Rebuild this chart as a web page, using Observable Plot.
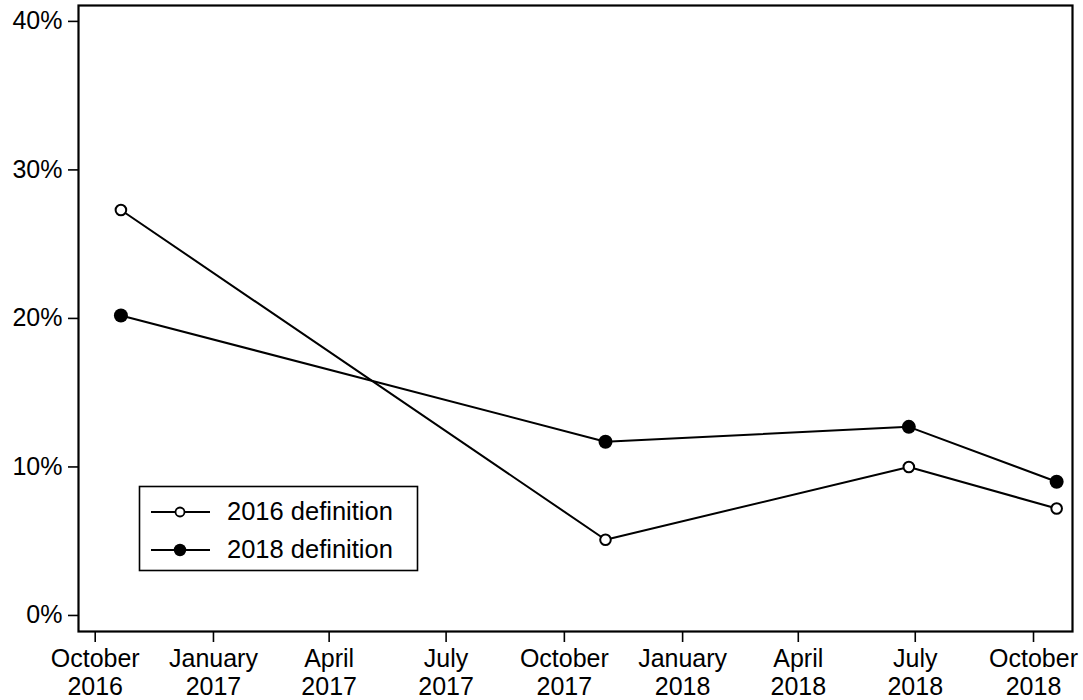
<!DOCTYPE html>
<html><head><meta charset="utf-8">
<script src="https://cdn.jsdelivr.net/npm/d3@7"></script>
<script src="https://cdn.jsdelivr.net/npm/@observablehq/plot@0.6"></script>
<style>
body{margin:0;background:#fff}
#wrap{position:relative;width:1083px;height:700px}
#legend{position:absolute;left:0;top:0;pointer-events:none}
</style>
</head><body><div id="wrap"></div>
<script>
const dates = ["2016-10-21","2017-11-02","2018-06-26","2018-10-19"];
const series = ["2016 definition","2018 definition"];
const def2016 = [27.3, 5.1, 10.0, 7.2];
const def2018 = [20.2, 11.7, 12.7, 9.0];
const yTicks = [0, 10, 20, 30, 40];
const xTicks = ["2016-10-01","2017-01-01","2017-04-01","2017-07-01","2017-10-01","2018-01-01","2018-04-01","2018-07-01","2018-10-01"];
const xTickLabels = ["October\n2016","January\n2017","April\n2017","July\n2017","October\n2017","January\n2018","April\n2018","July\n2018","October\n2018"];

const rows = [];
dates.forEach((d, i) => {
  rows.push({date: new Date(d), value: def2016[i], series: series[0]});
  rows.push({date: new Date(d), value: def2018[i], series: series[1]});
});
const tickDates = xTicks.map(d => new Date(d));
const labelMap = new Map(tickDates.map((d, i) => [+d, xTickLabels[i]]));

const font = "'Liberation Sans', Arial, Helvetica, sans-serif";
const chart = Plot.plot({
  width: 1083, height: 700,
  marginLeft: 78, marginRight: 11, marginTop: 5, marginBottom: 69,
  style: {fontFamily: font, fontSize: "25px", color: "black", background: "white"},
  x: {type: "utc", domain: [new Date("2016-09-18"), new Date("2018-10-31T08:00:00Z")]},
  y: {domain: [-1.08, 41.07]},
  marks: [
    Plot.axisY({ticks: yTicks, tickFormat: d => d + "%", tickSize: 10, tickPadding: 6, strokeWidth: 1.6, label: null}),
    Plot.axisX({ticks: tickDates, tickFormat: d => labelMap.get(+d), tickSize: 11, tickPadding: 4, strokeWidth: 1.6, lineHeight: 1.13, label: null}),
    Plot.frame({stroke: "black", strokeWidth: 2.2}),
    Plot.line(rows, {x: "date", y: "value", z: "series", stroke: "black", strokeWidth: 2}),
    Plot.dot(rows.filter(r => r.series === series[0]), {x: "date", y: "value", r: 5.3, fill: "white", stroke: "black", strokeWidth: 2}),
    Plot.dot(rows.filter(r => r.series === series[1]), {x: "date", y: "value", r: 7, fill: "black", stroke: "none"})
  ]
});
const wrap = document.getElementById("wrap");
wrap.appendChild(chart);

// legend overlay
const lg = d3.select(wrap).append("svg").attr("id", "legend").attr("width", 1083).attr("height", 700);
lg.append("rect").attr("x", 139.5).attr("y", 486.5).attr("width", 278).attr("height", 84)
  .attr("fill", "white").attr("stroke", "black").attr("stroke-width", 1.6);
const rowsY = [512, 550];
series.forEach((s, i) => {
  const y = rowsY[i];
  lg.append("line").attr("x1", 151).attr("x2", 210).attr("y1", y).attr("y2", y).attr("stroke", "black").attr("stroke-width", 2);
  if (i === 0) lg.append("circle").attr("cx", 180).attr("cy", y).attr("r", 4.5).attr("fill", "white").attr("stroke", "black").attr("stroke-width", 1.8);
  else lg.append("circle").attr("cx", 180).attr("cy", y).attr("r", 6.2).attr("fill", "black");
  lg.append("text").attr("x", 227).attr("y", y + 8).attr("font-family", font).attr("font-size", 25.5).attr("fill", "black").text(s);
});
</script>
</body></html>
